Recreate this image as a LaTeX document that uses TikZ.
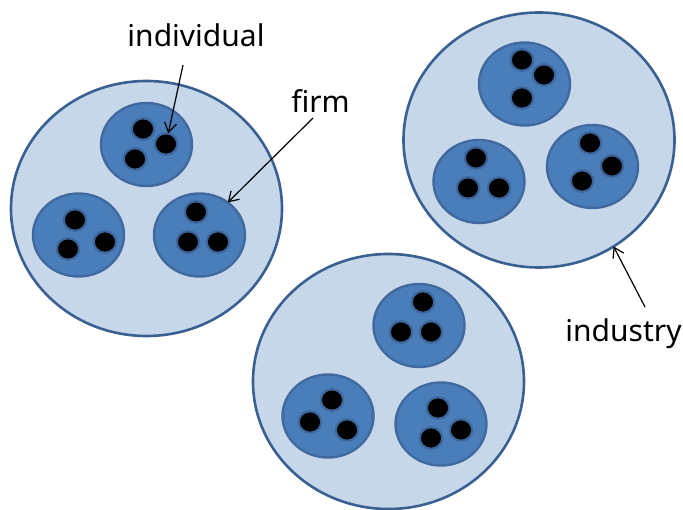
\documentclass[tikz,border=0pt]{standalone}
\usepackage{fontspec}
\setmainfont{Noto Sans}
\usetikzlibrary{shapes.geometric,arrows.meta}
\definecolor{indfill}{HTML}{C6D7EA}
\definecolor{indline}{HTML}{3A6092}
\definecolor{firmfill}{HTML}{4A7EBB}
\definecolor{firmline}{HTML}{41699E}
\definecolor{dotline}{HTML}{3D679C}
\begin{document}
\begin{tikzpicture}[x=1pt,y=-1pt,
  industrybox/.style={ellipse,draw=indline,fill=indfill,line width=2.6pt,inner sep=0pt,outer sep=0pt,minimum width=271pt,minimum height=255pt},
  firmbox/.style={ellipse,draw=firmline,fill=firmfill,line width=2.4pt,inner sep=0pt,outer sep=0pt,minimum width=91pt,minimum height=83pt},
  dotbox/.style={ellipse,draw=dotline,fill=black,line width=2.2pt,inner sep=0pt,outer sep=0pt,minimum width=22.5pt,minimum height=21.5pt},
  labeltext/.style={font=\fontsize{30}{36}\selectfont,inner sep=0pt,anchor=base},
  pointer/.style={draw=black,line width=1.2pt,-{Straight Barb[length=9.5pt,width=12pt,line width=1.2pt]}}]
\useasboundingbox (0,0) rectangle (683,510);
% industries
\node[industrybox] (indA) at (146.5,208.5) {};
\node[industrybox] (indB) at (539,140) {};
\node[industrybox] (indC) at (388.5,381.5) {};
% firms in A
\node[firmbox] (fA1) at (146.5,144.5) {};
\node[firmbox] (fA2) at (78.5,235) {};
\node[firmbox] (fA3) at (199.5,235) {};
% firms in B
\node[firmbox] (fB1) at (524.5,84) {};
\node[firmbox] (fB2) at (479,181.5) {};
\node[firmbox] (fB3) at (592.5,166.5) {};
% firms in C
\node[firmbox] (fC1) at (419,325.5) {};
\node[firmbox] (fC2) at (328,416) {};
\node[firmbox] (fC3) at (441,424) {};
% individuals A
\node[dotbox] (dA11) at (143,129) {};
\node[dotbox] (dA12) at (166,144) {};
\node[dotbox] (dA13) at (135,159) {};
\node[dotbox] (dA21) at (75,220) {};
\node[dotbox] (dA22) at (68,249) {};
\node[dotbox] (dA23) at (105,242) {};
\node[dotbox] (dA31) at (196,212) {};
\node[dotbox] (dA32) at (188,242) {};
\node[dotbox] (dA33) at (218,242) {};
% individuals B
\node[dotbox] (dB11) at (522,60) {};
\node[dotbox] (dB12) at (544,75) {};
\node[dotbox] (dB13) at (522,98) {};
\node[dotbox] (dB21) at (476,158) {};
\node[dotbox] (dB22) at (468,188) {};
\node[dotbox] (dB23) at (499,188) {};
\node[dotbox] (dB31) at (590,143) {};
\node[dotbox] (dB32) at (612,166) {};
\node[dotbox] (dB33) at (582,181) {};
% individuals C
\node[dotbox] (dC11) at (423,302) {};
\node[dotbox] (dC12) at (401,332) {};
\node[dotbox] (dC13) at (431,332) {};
\node[dotbox] (dC21) at (332,400) {};
\node[dotbox] (dC22) at (310,422) {};
\node[dotbox] (dC23) at (347,430) {};
\node[dotbox] (dC31) at (438,408) {};
\node[dotbox] (dC32) at (461,430) {};
\node[dotbox] (dC33) at (431,438) {};
% labels
\node[labeltext] (lInd) at (196,47) {individual};
\node[labeltext] (lFirm) at (320.5,113) {firm};
\node[labeltext] (lIndu) at (623.5,342) {industry};
% pointer starts
\coordinate (sInd) at (183,65);
\coordinate (sFirm) at (313,118);
\coordinate (sIndu) at (645,307);
\draw[pointer] (sInd) -- (dA12.78);
\draw[pointer] (sFirm) -- (fA3.49);
\draw[pointer] (sIndu) -- (indB.-55);
\end{tikzpicture}
\end{document}
